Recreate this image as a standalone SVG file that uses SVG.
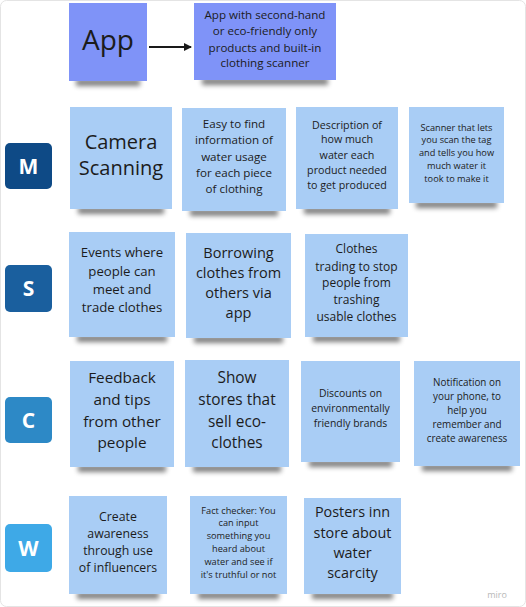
<svg xmlns="http://www.w3.org/2000/svg" width="526" height="607" viewBox="0 0 526 607">
<style>
.bg{fill:#ffffff;stroke:#e4e4e4;stroke-width:1}
.st{fill:#a9cdf5}
.sp{fill:#7f93f8}
.sh{fill:#000;opacity:0.5;filter:url(#blur)}
.t{font-family:"Open Sans","Noto Sans","Liberation Sans",sans-serif;fill:#1c1c1c;text-anchor:middle}
.bl{font-family:"Open Sans","Noto Sans","Liberation Sans",sans-serif;fill:#ffffff;text-anchor:middle;font-weight:bold;font-size:21px}
.conn{stroke:#1a1a1a;stroke-width:2;fill:none}
</style>
<defs>
<filter id="blur" x="-20%" y="-100%" width="140%" height="300%"><feGaussianBlur stdDeviation="2.5"/></filter>
<marker id="ah" markerWidth="8" markerHeight="8" refX="7" refY="4" orient="auto" markerUnits="userSpaceOnUse"><path d="M0,0 L8,4 L0,8 Z" fill="#1a1a1a"/></marker>
</defs>
<rect class="bg" x="0.5" y="0.5" width="525" height="606" rx="6"/>

<g id="connectors">
<line class="conn" x1="149" y1="47" x2="191" y2="47" marker-end="url(#ah)"/>
</g>

<g id="app">
<rect class="sh" x="76" y="79" width="64" height="7"/>
<rect class="sp" x="69" y="3" width="78" height="78"/>
<text class="t" x="108" y="50" font-size="28">App</text>
</g>
<g id="app-desc">
<rect class="sh" x="202" y="78" width="126" height="7"/>
<rect class="sp" x="194" y="3" width="142" height="77"/>
<text class="t" font-size="11.6"><tspan x="265" y="19">App with second-hand</tspan><tspan x="265" y="35">or eco-friendly only</tspan><tspan x="265" y="51.5">products and built-in</tspan><tspan x="265" y="67">clothing scanner</tspan></text>
</g>

<g id="badge-m"><rect x="5" y="143" width="47" height="46" rx="5" fill="#0e4a86"/><text class="bl" x="28.5" y="174">M</text></g>
<g id="badge-s"><rect x="5" y="265" width="47" height="47" rx="5" fill="#1a5f9e"/><text class="bl" x="28.5" y="296">S</text></g>
<g id="badge-c"><rect x="5" y="397" width="47" height="46" rx="5" fill="#2d89c6"/><text class="bl" x="28.5" y="428">C</text></g>
<g id="badge-w"><rect x="5" y="524" width="47" height="48" rx="5" fill="#3ea9e7"/><text class="bl" x="28.5" y="556">W</text></g>

<g id="m1">
<rect class="sh" x="78" y="207" width="86" height="7"/>
<rect class="st" x="70" y="107" width="102" height="102"/>
<text class="t" font-size="20"><tspan x="121" y="148.5">Camera</tspan><tspan x="121" y="174.5">Scanning</tspan></text>
</g>
<g id="m2">
<rect class="sh" x="190" y="209" width="88" height="7"/>
<rect class="st" x="182" y="108" width="104" height="103"/>
<text class="t" font-size="11.6"><tspan x="234" y="127.7">Easy to find</tspan><tspan x="234" y="143.7">information of</tspan><tspan x="234" y="160.7">water usage</tspan><tspan x="234" y="176.7">for each piece</tspan><tspan x="234" y="192.7">of clothing</tspan></text>
</g>
<g id="m3">
<rect class="sh" x="304" y="207" width="86" height="7"/>
<rect class="st" x="296" y="107" width="102" height="102"/>
<text class="t" font-size="10.7"><tspan x="347" y="129.4">Description of</tspan><tspan x="347" y="143.4">how much</tspan><tspan x="347" y="159.4">water each</tspan><tspan x="347" y="174.4">product needed</tspan><tspan x="347" y="189.4">to get produced</tspan></text>
</g>
<g id="m4">
<rect class="sh" x="416" y="201" width="81" height="7"/>
<rect class="st" x="409" y="107" width="95" height="96"/>
<text class="t" font-size="9.2"><tspan x="456.5" y="131">Scanner that lets</tspan><tspan x="456.5" y="143">you scan the tag</tspan><tspan x="456.5" y="156">and tells you how</tspan><tspan x="456.5" y="169">much water it</tspan><tspan x="456.5" y="182">took to make it</tspan></text>
</g>

<g id="s1">
<rect class="sh" x="77" y="335" width="90" height="7"/>
<rect class="st" x="69" y="232" width="106" height="105"/>
<text class="t" font-size="13.2"><tspan x="122" y="257">Events where</tspan><tspan x="122" y="276">people can</tspan><tspan x="122" y="294">meet and</tspan><tspan x="122" y="312">trade clothes</tspan></text>
</g>
<g id="s2">
<rect class="sh" x="194" y="336" width="89" height="7"/>
<rect class="st" x="186" y="233" width="105" height="105"/>
<text class="t" font-size="14.5"><tspan x="238.5" y="257.6">Borrowing</tspan><tspan x="238.5" y="277.6">clothes from</tspan><tspan x="238.5" y="297.6">others via</tspan><tspan x="238.5" y="317.6">app</tspan></text>
</g>
<g id="s3">
<rect class="sh" x="313" y="335" width="87" height="7"/>
<rect class="st" x="305" y="234" width="103" height="103"/>
<text class="t" font-size="12"><tspan x="356.5" y="253">Clothes</tspan><tspan x="356.5" y="271">trading to stop</tspan><tspan x="356.5" y="287">people from</tspan><tspan x="356.5" y="304">trashing</tspan><tspan x="356.5" y="321">usable clothes</tspan></text>
</g>

<g id="c1">
<rect class="sh" x="78" y="465" width="88" height="7"/>
<rect class="st" x="70" y="361" width="104" height="106"/>
<text class="t" font-size="15.3"><tspan x="122" y="383">Feedback</tspan><tspan x="122" y="405">and tips</tspan><tspan x="122" y="427">from other</tspan><tspan x="122" y="448">people</tspan></text>
</g>
<g id="c2">
<rect class="sh" x="193" y="465" width="88" height="7"/>
<rect class="st" x="185" y="360" width="104" height="107"/>
<text class="t" font-size="15.4"><tspan x="237" y="383">Show</tspan><tspan x="237" y="405">stores that</tspan><tspan x="237" y="427">sell eco-</tspan><tspan x="237" y="448">clothes</tspan></text>
</g>
<g id="c3">
<rect class="sh" x="309" y="460" width="83" height="7"/>
<rect class="st" x="301" y="361" width="99" height="101"/>
<text class="t" font-size="10.4"><tspan x="350.5" y="396.5">Discounts on</tspan><tspan x="350.5" y="411.5">environmentally</tspan><tspan x="350.5" y="426.5">friendly brands</tspan></text>
</g>
<g id="c4">
<rect class="sh" x="422" y="464" width="90" height="7"/>
<rect class="st" x="414" y="361" width="106" height="105"/>
<text class="t" font-size="9.9"><tspan x="467" y="386">Notification on</tspan><tspan x="467" y="400">your phone, to</tspan><tspan x="467" y="414">help you</tspan><tspan x="467" y="428">remember and</tspan><tspan x="467" y="442">create awareness</tspan></text>
</g>

<g id="w1">
<rect class="sh" x="77" y="592" width="82" height="7"/>
<rect class="st" x="69" y="496" width="98" height="98"/>
<text class="t" font-size="12.3"><tspan x="118" y="521">Create</tspan><tspan x="118" y="538">awareness</tspan><tspan x="118" y="555">through use</tspan><tspan x="118" y="572">of influencers</tspan></text>
</g>
<g id="w2">
<rect class="sh" x="198" y="592" width="81" height="7"/>
<rect class="st" x="190" y="496" width="97" height="98"/>
<text class="t" font-size="9.2"><tspan x="238.5" y="514">Fact checker: You</tspan><tspan x="238.5" y="526">can input</tspan><tspan x="238.5" y="539">something you</tspan><tspan x="238.5" y="552">heard about</tspan><tspan x="238.5" y="565">water and see if</tspan><tspan x="238.5" y="578">it's truthful or not</tspan></text>
</g>
<g id="w3">
<rect class="sh" x="312" y="592" width="81" height="7"/>
<rect class="st" x="304" y="498" width="97" height="96"/>
<text class="t" font-size="14.4"><tspan x="352.5" y="516.6">Posters inn</tspan><tspan x="352.5" y="537.6">store about</tspan><tspan x="352.5" y="557.6">water</tspan><tspan x="352.5" y="577.6">scarcity</tspan></text>
</g>

<text x="497" y="598" font-family="Open Sans, Liberation Sans, sans-serif" font-size="9" fill="#b8b8b8" text-anchor="middle">miro</text>
</svg>
